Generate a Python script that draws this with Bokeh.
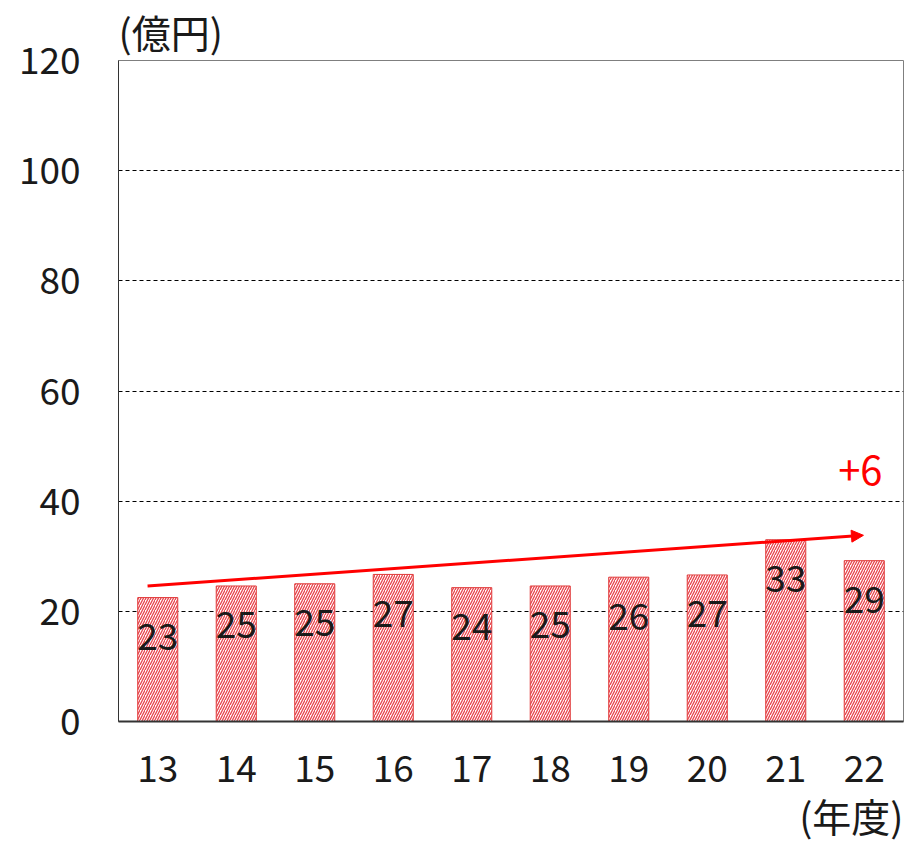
from bokeh.plotting import figure
from bokeh.models import (ColumnDataSource, LabelSet, Label, Arrow, NormalHead,
                          FixedTicker, FactorRange, Range1d, Title)
from bokeh.core.properties import value
from bokeh.embed import file_html
from bokeh.resources import INLINE

# ---- data ----
years = ["13", "14", "15", "16", "17", "18", "19", "20", "21", "22"]
values = [22.5, 24.6, 25.0, 26.7, 24.3, 24.6, 26.2, 26.6, 33.0, 29.2]
labels = ["23", "25", "25", "27", "24", "25", "26", "27", "33", "29"]
y_ticks = [0, 20, 40, 60, 80, 100, 120]
y_unit = "(億円)"
x_unit = "(年度)"
trend_start = (0.37, 24.6)   # (category position, value)
trend_end = (9.49, 33.8)
trend_text = "+6"
trend_text_pos = (9.45, 45.6)

FONT = "Noto Sans CJK JP"
FS = "37px"
FS_UNIT = "39px"
RED = "#ff0000"
BAR_RED = "#e03a3a"
INK = "#1a1a1a"

src = ColumnDataSource(dict(x=years, top=values, label=labels))

p = figure(width=904, height=844, x_range=FactorRange(*years, range_padding=0),
           y_range=Range1d(0, 120), output_backend="svg", toolbar_location=None,
           min_border_left=118, min_border_right=1, min_border_top=60,
           min_border_bottom=123)
p.background_fill_color = "white"
p.border_fill_color = "white"
p.outline_line_color = "#7f7f7f"
p.outline_line_width = 1

p.title.text = y_unit
p.title.align = "left"
p.title.vertical_align = "top"
p.title.text_font = FONT
p.title.text_font_size = FS_UNIT
p.title.text_font_style = "normal"
p.title.text_color = INK
p.title.standoff = 0

p.vbar(x="x", top="top", width=0.51, source=src, fill_color="white",
       line_color=BAR_RED, line_width=1, hatch_pattern="/", hatch_color="#e8454d",
       hatch_scale=5, hatch_weight=1.3)

p.add_layout(LabelSet(x="x", y="top", text="label", source=src, y_offset=-39,
                      text_align="center", text_baseline="middle",
                      text_font=value(FONT), text_font_size=value(FS),
                      text_color=INK))

p.xgrid.grid_line_color = None
p.ygrid.grid_line_color = "black"
p.ygrid.grid_line_dash = "4 3"
p.ygrid.grid_line_width = 1
p.yaxis.ticker = FixedTicker(ticks=y_ticks)

for ax in (p.xaxis[0], p.yaxis[0]):
    ax.major_tick_line_color = None
    ax.minor_tick_line_color = None
    ax.major_tick_out = 0
    ax.major_tick_in = 0
    ax.major_label_text_font = FONT
    ax.major_label_text_font_size = FS
    ax.major_label_text_color = INK
    ax.axis_line_color = "#333333"
p.xaxis.axis_line_width = 2
p.yaxis.axis_line_width = 1
p.yaxis.major_label_standoff = 38
p.xaxis.major_label_standoff = 33

p.add_layout(Arrow(end=NormalHead(size=12, fill_color=RED, line_color=RED),
                   x_start=trend_start[0], y_start=trend_start[1],
                   x_end=trend_end[0], y_end=trend_end[1],
                   line_color=RED, line_width=3))

p.add_layout(Label(x=trend_text_pos[0], y=trend_text_pos[1], text=trend_text,
                   text_align="center", text_baseline="middle", text_font=FONT,
                   text_font_size="40px", text_color=RED))

p.add_layout(Title(text=x_unit, align="right", vertical_align="bottom",
                   text_font=FONT, text_font_size=FS_UNIT,
                   text_font_style="normal", text_color=INK, standoff=0), "below")

open("out.html", "w").write(file_html(p, INLINE))
